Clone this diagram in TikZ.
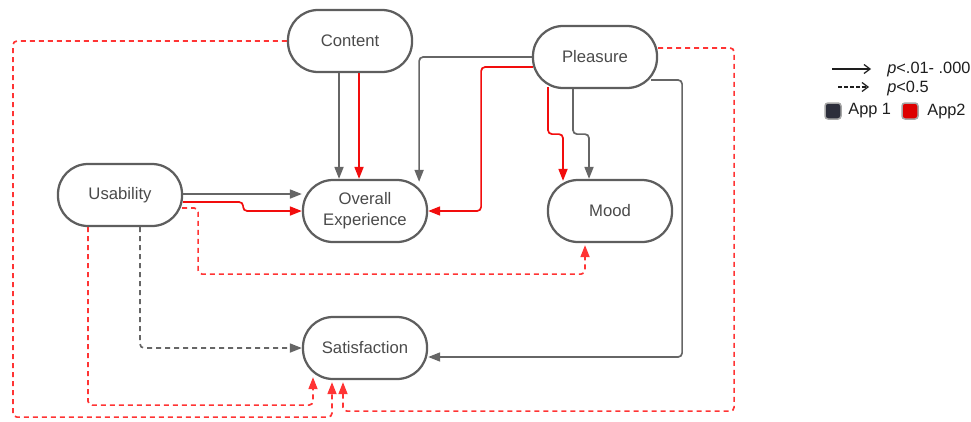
\documentclass[tikz,border=0pt]{standalone}
\usepackage{fontspec}
\setmainfont{Liberation Sans}
\usetikzlibrary{arrows.meta,calc}
\definecolor{boxline}{HTML}{5E5E5E}
\definecolor{txt}{HTML}{4A4A4A}
\definecolor{linkgray}{HTML}{666666}
\definecolor{linkred}{HTML}{F20D0D}
\definecolor{dashred}{HTML}{FF3434}
\definecolor{appone}{HTML}{2C2E3B}
\definecolor{apptwo}{HTML}{DD0000}
\definecolor{legink}{HTML}{1E1E1E}

\tikzset{
  construct/.style={draw=boxline, line width=0.45mm, rounded corners=6mm,
    minimum width=24.8mm, minimum height=12.4mm, inner sep=0pt,
    text=txt, align=center, font=\fontsize{9.5}{12}\selectfont},
  link/.style={line width=0.34mm, rounded corners=0.8mm,
    -{Triangle[length=2.4mm,width=1.8mm]}},
  grayl/.style={link, draw=linkgray},
  redl/.style={link, draw=linkred},
  redd/.style={link, draw=dashred, dash pattern=on 1mm off 0.8mm},
  grayd/.style={link, draw=linkgray, dash pattern=on 1mm off 0.8mm},
  legarrow/.style={draw=legink, line width=0.25mm, -{Straight Barb[length=1.2mm,width=1.8mm]}},
  legtext/.style={anchor=west, inner sep=0pt, text=legink, font=\fontsize{9.3}{11}\selectfont},
  appbox/.style={draw=gray!70, line width=0.3mm, rounded corners=0.6mm,
    minimum size=3.2mm, inner sep=0pt}
}

\begin{document}
\begin{tikzpicture}[x=0.2mm,y=-0.2mm]
\useasboundingbox (0,0) rectangle (971,422);

% constructs
\node[construct] (content) at (350,41)  {Content};
\node[construct] (pleas)   at (595,57)  {Pleasure};
\node[construct] (usab)    at (120,195) {Usability};
\node[construct] (overall) at (365,211) {Overall\\Experience};
\node[construct] (mood)    at (610,211) {Mood};
\node[construct] (satis)   at (365,348) {Satisfaction};

% Content -> Overall Experience
\draw[grayl] ($(content.south)+(-11,0)$) -- ($(overall.north)+(-26,0)$);
\draw[redl]  ($(content.south)+(9,0)$)   -- ($(overall.north)+(-6,0)$);

% Usability -> Overall Experience
\draw[grayl] ($(usab.east)+(0,-1)$) -- ($(usab.east -| overall.west)+(0,-1)$);
\draw[redl] ($(usab.east)+(0,7)$) -- ++(60,0) -- ++(0,9) coordinate (ubend) -- (ubend -| overall.west);

% Pleasure -> Overall Experience
\draw[grayl] (pleas.west) -| ($(overall.north east)+(-9,3)$);
\draw[redl] ($(pleas.west)+(1,10)$) -| ($(overall.east)+(53,0)$) -- (overall.east);

% Pleasure -> Mood
\draw[redl] ($(pleas.south)+(-47,-2)$) -- ++(0,47) -- ++(15,0) -- ($(mood.north)+(-47,2)$);
\draw[grayl] ($(pleas.south)+(-22,0)$) -- ++(0,45) -- ++(16,0) -- ($(mood.north)+(-21,0)$);

% Pleasure -> Satisfaction
\draw[grayl] ($(pleas.east)+(-7,23)$) -- ++(31,0) |- ($(satis.east)+(0,9)$);
\draw[redd] ($(pleas.east)+(0,-9)$) -- ++(76,0) |- ($(satis.south)+(-22,31)$) -- ($(satis.south)+(-22,2)$);

% Content -> Satisfaction
\draw[redd] (content.west) -| ($(satis.south)+(-352,37)$) -| ($(satis.south)+(-33,2)$);

% Usability -> Satisfaction
\draw[redd] ($(usab.south)+(-32,0)$) |- ($(satis.south)+(-52,25)$) -- ($(satis.south)+(-52,-3)$);
\draw[grayd] ($(usab.south)+(20,0)$) |- (satis.west);

% Usability -> Mood
\draw[redd] ($(usab.east)+(-1,13)$) -- ++(16,0) |- ($(mood.south)+(-25,31)$) -- ($(mood.south)+(-25,2)$);

% legend
\coordinate (ls1) at (832,69);
\coordinate (le1) at (871,69);
\coordinate (ls2) at (838,87);
\coordinate (le2) at (869,87);
\draw[legarrow] (ls1) -- (le1);
\draw[legarrow, dash pattern=on 0.7mm off 0.5mm] (ls2) -- (le2);
\node[legtext] (lt1) at (887,69) {\textit{p}<.01- .000};
\node[legtext] (lt2) at (887,88) {\textit{p}<0.5};
\node[appbox, fill=appone] (k1) at (833,111) {};
\node[legtext] (a1) at (848,111) {App 1};
\node[appbox, fill=apptwo] (k2) at (910,111) {};
\node[legtext] (a2) at (927,111) {App2};
\end{tikzpicture}
\end{document}
